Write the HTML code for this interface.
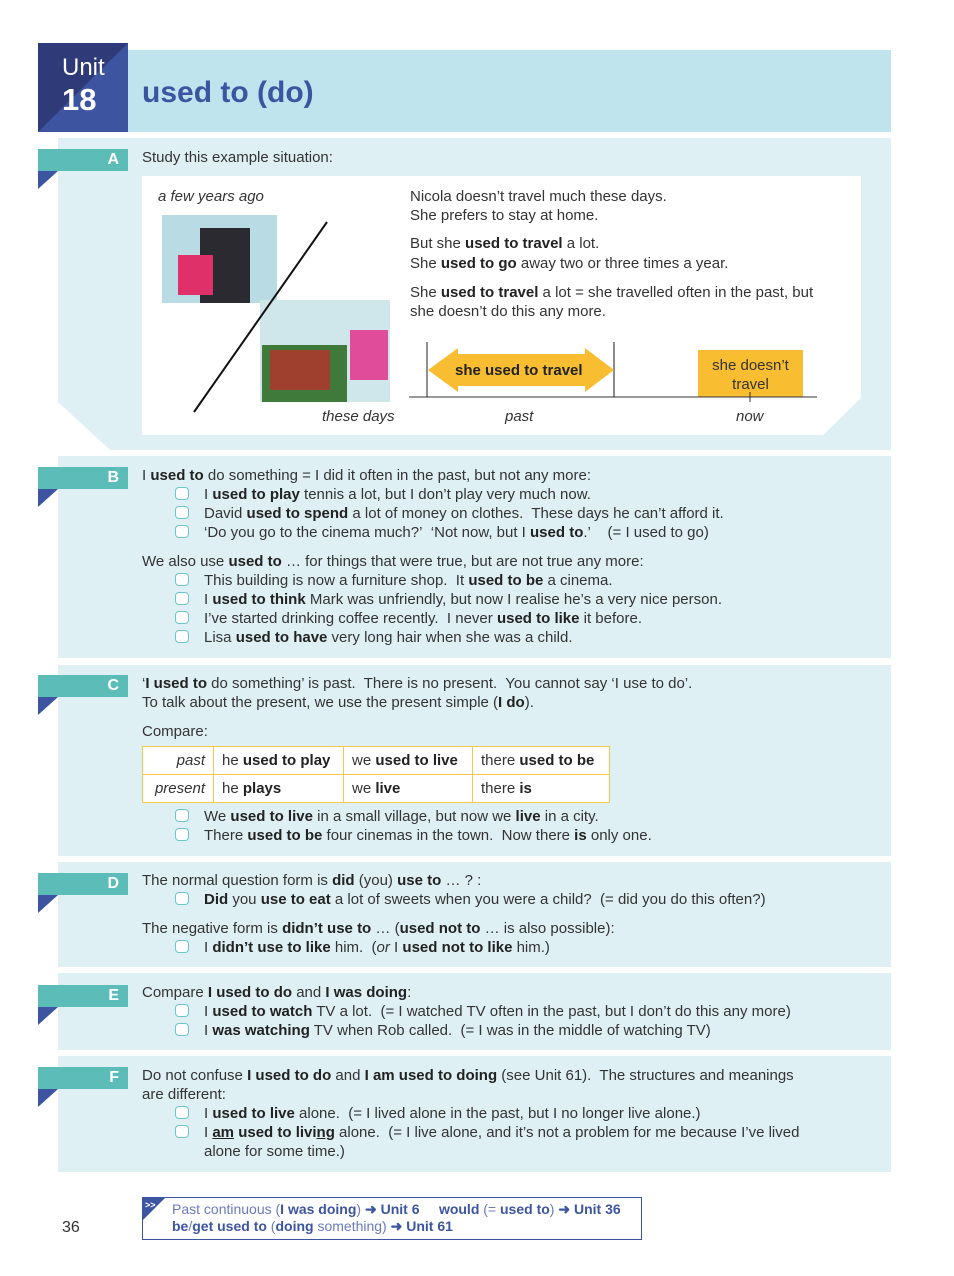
<!DOCTYPE html>
<html><head><meta charset="utf-8"><style>
*{margin:0;padding:0;box-sizing:border-box}
body{width:954px;height:1276px;background:#fff;position:relative;font-family:"Liberation Sans",sans-serif;color:#333;font-size:15px;overflow:hidden}
.t{position:absolute;white-space:nowrap;line-height:19px;letter-spacing:0}
b{font-weight:bold;color:#222}
i{font-style:italic}
.sec{position:absolute;left:58px;width:833px;background:#dff0f5}
.lab{position:absolute;left:38px;width:90px;height:22px;background:#5bbcb8;color:#fff;font-weight:bold;font-size:16px;text-align:right;padding-right:9px;line-height:22px}
.tri{position:absolute;left:38px;width:0;height:0;border-top:18px solid #3d55a0;border-right:20px solid transparent}
.bx{position:absolute;left:175px;width:14px;height:13px;border:1.5px solid #6cc4c8;border-radius:4px;background:#fff}
td{border:1px solid #f5c84a;padding:0 8px;height:28px;font-size:15px;white-space:nowrap}
</style></head><body>
<!-- header -->
<div style="position:absolute;left:128px;top:50px;width:763px;height:82px;background:#bfe4ee"></div>
<div style="position:absolute;left:38px;top:43px;width:90px;height:89px;background:#3d55a0"></div>
<svg style="position:absolute;left:38px;top:43px" width="90" height="89"><polygon points="0,0 90,0 0,89" fill="#2f3b78"/></svg>
<div class="t" style="left:62px;top:54px;color:#fff;font-size:24px;line-height:28px">Unit</div>
<div class="t" style="left:62px;top:82px;color:#fff;font-size:31px;font-weight:bold;line-height:36px">18</div>
<div class="t" style="left:142px;top:74px;color:#3d55a0;font-size:30px;font-weight:bold;line-height:38px">used to (do)</div>

<!-- A -->
<div class="sec" style="top:138px;height:312px;clip-path:polygon(0 0,100% 0,100% 100%,52px 100%,0 264px)"></div>
<div class="lab" style="top:149px">A</div><div class="tri" style="top:171px"></div>
<div class="t" style="left:142px;top:148px">Study this example situation:</div>
<div style="position:absolute;left:142px;top:176px;width:719px;height:259px;background:#fff"></div>
<svg style="position:absolute;left:820px;top:396px" width="42" height="40"><polygon points="41,2 41,40 2,40" fill="#dff0f5"/></svg>
<div class="t" style="left:158px;top:187px"><i>a few years ago</i></div>
<div style="position:absolute;left:162px;top:215px;width:115px;height:88px;background:#b9dce4"></div>
<div style="position:absolute;left:200px;top:228px;width:50px;height:75px;background:#2a2a30"></div>
<div style="position:absolute;left:178px;top:255px;width:35px;height:40px;background:#e0306a"></div>
<div style="position:absolute;left:260px;top:300px;width:130px;height:102px;background:#cfe6ea"></div>
<div style="position:absolute;left:262px;top:345px;width:85px;height:57px;background:#3f7a3a"></div>
<div style="position:absolute;left:270px;top:350px;width:60px;height:40px;background:#c82828;opacity:.7"></div>
<div style="position:absolute;left:350px;top:330px;width:38px;height:50px;background:#e04c9a"></div>
<svg style="position:absolute;left:0;top:0" width="954" height="1276"><line x1="327" y1="222" x2="194" y2="412" stroke="#111" stroke-width="2"/></svg>
<div class="t" style="left:322px;top:407px"><i>these days</i></div>
<div class="t" style="left:410px;top:187px">Nicola doesn’t travel much these days.</div>
<div class="t" style="left:410px;top:206px">She prefers to stay at home.</div>
<div class="t" style="left:410px;top:234px">But she <b>used to travel</b> a lot.</div>
<div class="t" style="left:410px;top:254px">She <b>used to go</b> away two or three times a year.</div>
<div class="t" style="left:410px;top:283px">She <b>used to travel</b> a lot = she travelled often in the past, but</div>
<div class="t" style="left:410px;top:302px">she doesn’t do this any more.</div>
<svg style="position:absolute;left:400px;top:330px" width="480" height="80">
<line x1="27" y1="12" x2="27" y2="67" stroke="#222" stroke-width="1"/>
<line x1="214" y1="12" x2="214" y2="67" stroke="#666" stroke-width="1.5"/>
<polygon points="28,40 58,18 58,24 185,24 185,18 214,40 185,62 185,56 58,56 58,62" fill="#f8bd30"/>
<rect x="298" y="20" width="105" height="47" fill="#f8bd30"/>
<line x1="9" y1="67" x2="417" y2="67" stroke="#333" stroke-width="1"/>
<line x1="350" y1="62" x2="350" y2="72" stroke="#333" stroke-width="1"/>
</svg>
<div class="t" style="left:455px;top:361px;font-weight:bold;color:#222;font-size:15px">she used to travel</div>
<div class="t" style="left:698px;top:356px;width:105px;text-align:center;line-height:19px">she doesn’t<br>travel</div>
<div class="t" style="left:505px;top:407px"><i>past</i></div>
<div class="t" style="left:736px;top:407px"><i>now</i></div>

<!-- B -->
<div class="sec" style="top:456px;height:202px"></div>
<div class="lab" style="top:467px">B</div><div class="tri" style="top:489px"></div>
<div class="t" style="left:142px;top:466px">I <b>used to</b> do something = I did it often in the past, but not any more:</div>
<div class="bx" style="top:487px"></div><div class="t" style="left:204px;top:485px">I <b>used to play</b> tennis a lot, but I don’t play very much now.</div>
<div class="bx" style="top:506px"></div><div class="t" style="left:204px;top:504px">David <b>used to spend</b> a lot of money on clothes.&nbsp; These days he can’t afford it.</div>
<div class="bx" style="top:525px"></div><div class="t" style="left:204px;top:523px">‘Do you go to the cinema much?’&nbsp; ‘Not now, but I <b>used to</b>.’&nbsp;&nbsp;&nbsp; (= I used to go)</div>
<div class="t" style="left:142px;top:552px">We also use <b>used to</b> … for things that were true, but are not true any more:</div>
<div class="bx" style="top:573px"></div><div class="t" style="left:204px;top:571px">This building is now a furniture shop.&nbsp; It <b>used to be</b> a cinema.</div>
<div class="bx" style="top:592px"></div><div class="t" style="left:204px;top:590px">I <b>used to think</b> Mark was unfriendly, but now I realise he’s a very nice person.</div>
<div class="bx" style="top:611px"></div><div class="t" style="left:204px;top:609px">I’ve started drinking coffee recently.&nbsp; I never <b>used to like</b> it before.</div>
<div class="bx" style="top:630px"></div><div class="t" style="left:204px;top:628px">Lisa <b>used to have</b> very long hair when she was a child.</div>

<!-- C -->
<div class="sec" style="top:665px;height:191px"></div>
<div class="lab" style="top:675px">C</div><div class="tri" style="top:697px"></div>
<div class="t" style="left:142px;top:674px">‘<b>I used to</b> do something’ is past.&nbsp; There is no present.&nbsp; You cannot say ‘I use to do’.</div>
<div class="t" style="left:142px;top:693px">To talk about the present, we use the present simple (<b>I do</b>).</div>
<div class="t" style="left:142px;top:722px">Compare:</div>
<table style="position:absolute;left:142px;top:746px;border-collapse:collapse;background:#fff;width:468px">
<tr><td style="width:71px;text-align:right"><i>past</i></td><td style="width:130px">he <b>used to play</b></td><td style="width:129px">we <b>used to live</b></td><td>there <b>used to be</b></td></tr>
<tr><td style="text-align:right"><i>present</i></td><td>he <b>plays</b></td><td>we <b>live</b></td><td>there <b>is</b></td></tr>
</table>
<div class="bx" style="top:809px"></div><div class="t" style="left:204px;top:807px">We <b>used to live</b> in a small village, but now we <b>live</b> in a city.</div>
<div class="bx" style="top:828px"></div><div class="t" style="left:204px;top:826px">There <b>used to be</b> four cinemas in the town.&nbsp; Now there <b>is</b> only one.</div>

<!-- D -->
<div class="sec" style="top:862px;height:105px"></div>
<div class="lab" style="top:873px">D</div><div class="tri" style="top:895px"></div>
<div class="t" style="left:142px;top:871px">The normal question form is <b>did</b> (you) <b>use to</b> … ? :</div>
<div class="bx" style="top:892px"></div><div class="t" style="left:204px;top:890px"><b>Did</b> you <b>use to eat</b> a lot of sweets when you were a child?&nbsp; (= did you do this often?)</div>
<div class="t" style="left:142px;top:919px">The negative form is <b>didn’t use to</b> … (<b>used not to</b> … is also possible):</div>
<div class="bx" style="top:940px"></div><div class="t" style="left:204px;top:938px">I <b>didn’t use to like</b> him.&nbsp; (<i>or</i> I <b>used not to like</b> him.)</div>

<!-- E -->
<div class="sec" style="top:973px;height:77px"></div>
<div class="lab" style="top:985px">E</div><div class="tri" style="top:1007px"></div>
<div class="t" style="left:142px;top:983px">Compare <b>I used to do</b> and <b>I was doing</b>:</div>
<div class="bx" style="top:1004px"></div><div class="t" style="left:204px;top:1002px">I <b>used to watch</b> TV a lot.&nbsp; (= I watched TV often in the past, but I don’t do this any more)</div>
<div class="bx" style="top:1023px"></div><div class="t" style="left:204px;top:1021px">I <b>was watching</b> TV when Rob called.&nbsp; (= I was in the middle of watching TV)</div>

<!-- F -->
<div class="sec" style="top:1056px;height:116px"></div>
<div class="lab" style="top:1067px">F</div><div class="tri" style="top:1089px"></div>
<div class="t" style="left:142px;top:1066px">Do not confuse <b>I used to do</b> and <b>I am used to doing</b> (see Unit 61).&nbsp; The structures and meanings</div>
<div class="t" style="left:142px;top:1085px">are different:</div>
<div class="bx" style="top:1106px"></div><div class="t" style="left:204px;top:1104px">I <b>used to live</b> alone.&nbsp; (= I lived alone in the past, but I no longer live alone.)</div>
<div class="bx" style="top:1125px"></div><div class="t" style="left:204px;top:1123px">I <b><u>am</u> used to livi<u>ng</u></b> alone.&nbsp; (= I live alone, and it’s not a problem for me because I’ve lived</div>
<div class="t" style="left:204px;top:1142px">alone for some time.)</div>

<!-- footer -->
<div class="t" style="left:62px;top:1218px;font-size:16px">36</div>
<div style="position:absolute;left:142px;top:1197px;width:500px;height:43px;border:1.5px solid #3d55a0;background:#fff"></div>
<svg style="position:absolute;left:143px;top:1198px" width="24" height="24"><polygon points="0,0 22,0 0,22" fill="#3d55a0"/><text x="2" y="10" fill="#fff" font-size="9" font-weight="bold" font-family="Liberation Sans">&gt;&gt;</text></svg>
<div class="t" style="left:172px;top:1201px;font-size:14px;line-height:17px;color:#6a7bb8">Past continuous (<b style="color:#3d55a0">I was doing</b>) <b style="color:#3d55a0">➜ Unit 6</b>&nbsp;&nbsp;&nbsp;&nbsp; <b style="color:#3d55a0">would</b> (= <b style="color:#3d55a0">used to</b>) <b style="color:#3d55a0">➜ Unit 36</b></div>
<div class="t" style="left:172px;top:1218px;font-size:14px;line-height:17px;color:#6a7bb8"><b style="color:#3d55a0">be</b>/<b style="color:#3d55a0">get used to</b> (<b style="color:#3d55a0">doing</b> something) <b style="color:#3d55a0">➜ Unit 61</b></div>
</body></html>
